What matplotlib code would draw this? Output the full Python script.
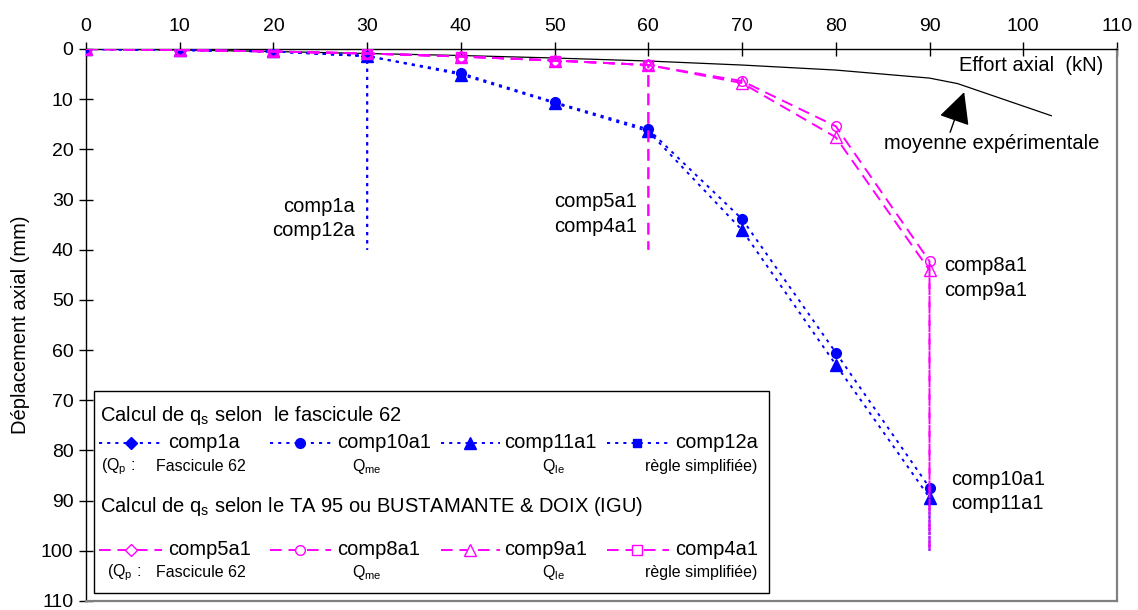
import matplotlib
matplotlib.use("Agg")
import matplotlib.pyplot as plt
from matplotlib.lines import Line2D
from matplotlib.patches import Rectangle

plt.rcParams['font.family'] = ['Liberation Sans', 'DejaVu Sans']
plt.rcParams['mathtext.fontset'] = 'custom'
plt.rcParams['mathtext.rm'] = 'Liberation Sans'
plt.rcParams['mathtext.default'] = 'regular'

# ---------------- data ----------------
effort = [0, 10, 20, 30, 40, 50, 60, 70, 80, 90]

comp1a_x = [0, 10, 20, 30, 30]
comp1a_y = [0, 0.2, 0.5, 1.4, 40]
comp12a_x = [0, 10, 20, 30, 30]
comp12a_y = [0, 0.2, 0.5, 1.4, 40]
comp10a1_x = [0, 10, 20, 30, 40, 50, 60, 70, 80, 90, 90]
comp10a1_y = [0, 0.2, 0.5, 1.4, 4.8, 10.6, 16.0, 33.9, 60.5, 87.4, 100]
comp11a1_x = [0, 10, 20, 30, 40, 50, 60, 70, 80, 90, 90]
comp11a1_y = [0, 0.2, 0.5, 1.4, 5.1, 10.8, 16.4, 36.1, 62.9, 89.4, 100]

comp5a1_x = [0, 10, 20, 30, 40, 50, 60, 60]
comp5a1_y = [0, 0.2, 0.5, 0.9, 1.5, 2.3, 3.2, 40]
comp4a1_x = [0, 10, 20, 30, 40, 50, 60, 60]
comp4a1_y = [0, 0.2, 0.5, 0.9, 1.5, 2.3, 3.2, 40]
comp8a1_x = [0, 10, 20, 30, 40, 50, 60, 70, 80, 90, 90]
comp8a1_y = [0, 0.2, 0.5, 0.9, 1.5, 2.3, 3.2, 6.4, 15.4, 42.3, 100]
comp9a1_x = [0, 10, 20, 30, 40, 50, 60, 70, 80, 90, 90]
comp9a1_y = [0, 0.2, 0.5, 0.9, 1.5, 2.3, 3.2, 6.8, 17.6, 44.1, 100]

exp_x = [0, 10, 20, 30, 40, 50, 60, 70, 80, 90, 93, 103]
exp_y = [0, 0.2, 0.5, 0.9, 1.3, 1.8, 2.4, 3.2, 4.2, 5.8, 6.9, 13.3]

xticks = list(range(0, 111, 10))
yticks = list(range(0, 111, 10))

BLUE = '#0000FF'
MAG = '#FF00FF'
blue_ls = (0, (1.6, 2.6))
mag_ls = (0, (6, 3.5))

fig = plt.figure(figsize=(11.38, 6.10), dpi=100)
ax = fig.add_axes([0.0756, 0.0148, 0.9059, 0.9049])
ax.set_xlim(0, 110)
ax.set_ylim(110, 0)

# experimental mean
ax.plot(exp_x, exp_y, color='black', lw=0.9, zorder=2)

def series(x, y, color, ls, marker, filled, ms, z):
    n = len(x)
    kw = dict(color=color, ls=ls, lw=1.4, marker=marker, ms=ms,
              markevery=list(range(n - 1)), zorder=z)
    if filled:
        kw.update(mfc=color, mec=color)
    else:
        kw.update(mfc='none', mec=color, mew=1.0)
    ax.plot(x, y, **kw)

series(comp10a1_x, comp10a1_y, BLUE, blue_ls, 'o', True, 7, 3)
series(comp11a1_x, comp11a1_y, BLUE, blue_ls, '^', True, 8, 3)
series(comp1a_x, comp1a_y, BLUE, blue_ls, 'D', True, 6, 3)
series(comp12a_x, comp12a_y, BLUE, blue_ls, 's', True, 6, 3)
series(comp8a1_x, comp8a1_y, MAG, mag_ls, 'o', False, 7, 4)
series(comp9a1_x, comp9a1_y, MAG, mag_ls, '^', False, 8, 4)
series(comp5a1_x, comp5a1_y, MAG, mag_ls, 'D', False, 6, 4)
series(comp4a1_x, comp4a1_y, MAG, mag_ls, 's', False, 7, 4)

FS = 14.5
SFS = 11.5
ax.text(28.7, 31.3, 'comp1a', ha='right', va='center', fontsize=FS)
ax.text(28.7, 36.2, 'comp12a', ha='right', va='center', fontsize=FS)
ax.text(58.8, 30.4, 'comp5a1', ha='right', va='center', fontsize=FS)
ax.text(58.8, 35.4, 'comp4a1', ha='right', va='center', fontsize=FS)
ax.text(91.6, 43.2, 'comp8a1', ha='left', va='center', fontsize=FS)
ax.text(91.6, 48.2, 'comp9a1', ha='left', va='center', fontsize=FS)
ax.text(92.3, 85.8, 'comp10a1', ha='left', va='center', fontsize=FS)
ax.text(92.3, 90.6, 'comp11a1', ha='left', va='center', fontsize=FS)
ax.text(108.5, 3.3, 'Effort axial  (kN)', ha='right', va='center', fontsize=FS)
ax.text(96.6, 18.8, 'moyenne expérimentale', ha='center', va='center', fontsize=FS)
ax.annotate('', xy=(93.7, 8.6), xytext=(92.2, 16.6),
            arrowprops=dict(arrowstyle='-|>,head_length=0.9,head_width=0.45',
                            mutation_scale=22, color='black', lw=1.0,
                            shrinkA=0, shrinkB=0))

# ---------------- custom legend ----------------
ax.add_patch(Rectangle((0.85, 68.1), 72.0, 40.3, fill=True, fc='white',
                       ec='black', lw=1.0, zorder=5))

def lx(p):
    return (p - 86) / 9.373

def ly(p):
    return (p - 49) / 5.01

ax.text(lx(100), ly(415), 'Calcul de q$_s$ selon  le fascicule 62',
        ha='left', va='center', fontsize=FS, zorder=6)
ax.text(lx(100), ly(506), 'Calcul de q$_s$ selon le TA 95 ou BUSTAMANTE & DOIX (IGU)',
        ha='left', va='center', fontsize=FS, zorder=6)

cols = [(99, 162, 131, 168), (270, 331, 300, 337), (441, 500, 470, 504), (607, 669, 637, 675)]
row1 = [('comp1a', 'D', 6), ('comp10a1', 'o', 7), ('comp11a1', '^', 8), ('comp12a', 's', 6)]
row2 = [('comp5a1', 'D', 6), ('comp8a1', 'o', 7), ('comp9a1', '^', 8), ('comp4a1', 's', 7)]

for (a, b, m, t), (name, mk, ms) in zip(cols, row1):
    yy = ly(442)
    ax.add_line(Line2D([lx(a), lx(b)], [yy, yy], color=BLUE, ls=blue_ls, lw=1.4, zorder=6))
    ax.add_line(Line2D([lx(m)], [yy], color=BLUE, marker=mk, ms=ms, mfc=BLUE, mec=BLUE, zorder=7))
    ax.text(lx(t), yy, name, ha='left', va='center', fontsize=FS, zorder=6)
for (a, b, m, t), (name, mk, ms) in zip(cols, row2):
    yy = ly(549)
    ax.add_line(Line2D([lx(a), lx(b)], [yy, yy], color=MAG, ls=mag_ls, lw=1.4, zorder=6))
    ax.add_line(Line2D([lx(m)], [yy], color=MAG, marker=mk, ms=ms, mfc='white', mec=MAG, mew=1.0, zorder=7))
    ax.text(lx(t), yy, name, ha='left', va='center', fontsize=FS, zorder=6)

for yrow, xq in ((466, 101), (572, 107)):
    yy = ly(yrow)
    ax.text(lx(xq), yy, '(Q$_p$ :', ha='left', va='center', fontsize=SFS, zorder=6)
    ax.text(lx(156), yy, 'Fascicule 62', ha='left', va='center', fontsize=SFS, zorder=6)
    ax.text(lx(352), yy, 'Q$_{me}$', ha='left', va='center', fontsize=SFS, zorder=6)
    ax.text(lx(542), yy, 'Q$_{le}$', ha='left', va='center', fontsize=SFS, zorder=6)
    ax.text(lx(645), yy, 'règle simplifiée)', ha='left', va='center', fontsize=SFS, zorder=6)

# ---------------- axes styling ----------------
ax.xaxis.tick_top()
ax.set_xticks(xticks)
ax.set_yticks(yticks)
ax.tick_params(axis='both', direction='inout', length=10, width=1.0,
               labelsize=14, colors='black')
ax.tick_params(axis='x', pad=5)
ax.tick_params(axis='y', pad=4)
for s in ('top', 'left'):
    ax.spines[s].set_color('black')
    ax.spines[s].set_linewidth(1.0)
for s in ('right', 'bottom'):
    ax.spines[s].set_color('#808080')
    ax.spines[s].set_linewidth(1.6)
ax.set_ylabel('Déplacement axial (mm)', fontsize=14.5, labelpad=8)

fig.savefig('out.png', dpi=100)
